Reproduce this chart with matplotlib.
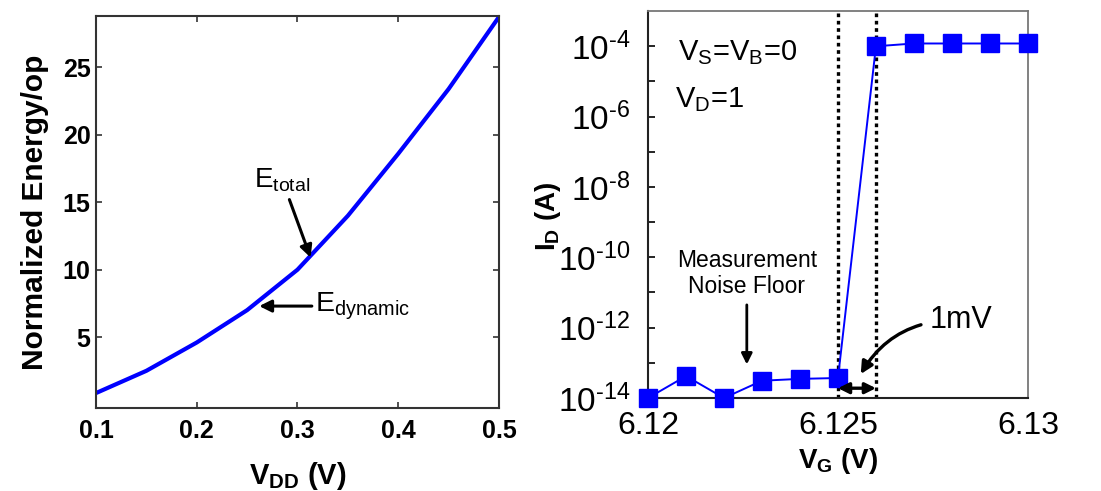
import numpy as np
import matplotlib.pyplot as plt
from matplotlib.ticker import FixedLocator, FuncFormatter

plt.rcParams.update(
    {
        "font.family": ["Liberation Sans", "DejaVu Sans"],
        "mathtext.fontset": "custom",
        "mathtext.rm": "Liberation Sans",
        "mathtext.it": "Liberation Sans",
        "mathtext.bf": "Liberation Sans:bold",
        "mathtext.default": "regular",
    }
)

# ---------------------------
# Data
# ---------------------------
vdd = [0.10, 0.15, 0.20, 0.25, 0.30, 0.35, 0.40, 0.45, 0.50]
energy = [0.85, 2.5, 4.6, 7.0, 10.0, 14.0, 18.6, 23.4, 28.75]
energy_ticks = [5, 10, 15, 20, 25]
vdd_ticks = [0.1, 0.2, 0.3, 0.4, 0.5]

vg = [6.120, 6.121, 6.122, 6.123, 6.124, 6.125, 6.126, 6.127, 6.128, 6.129, 6.130]
id_a = [1.0e-14, 4.2e-14, 1.0e-14, 3.1e-14, 3.5e-14, 3.7e-14,
        1.0e-4, 1.2e-4, 1.2e-4, 1.2e-4, 1.2e-4]
vg_ticks = [6.12, 6.125, 6.13]
vg_ticklabels = ["6.12", "6.125", "6.13"]
vg_window = [6.125, 6.126]

fig = plt.figure(figsize=(11.01, 4.91), dpi=100)

# ---------------------------
# Left: energy vs VDD
# ---------------------------
ax1 = fig.add_axes([0.0872, 0.169, 0.366, 0.798])
ax1.plot(vdd, energy, color="#0000ff", lw=3.0)
ax1.set_xlim(0.1, 0.5)
ax1.set_ylim(-0.26, 28.8)
ax1.xaxis.set_major_locator(FixedLocator(vdd_ticks))
ax1.yaxis.set_major_locator(FixedLocator(energy_ticks))
ax1.tick_params(direction="in", length=4, width=1.2, color="#333333",
                top=True, right=True, labelsize=18)
ax1.tick_params(axis="x", pad=8)
ax1.tick_params(axis="y", pad=4)
for lab in ax1.get_xticklabels() + ax1.get_yticklabels():
    lab.set_fontweight("bold")
for sp in ax1.spines.values():
    sp.set_color("#333333")
    sp.set_linewidth(1.5)
ax1.set_xlabel(r"V$_{\mathbf{DD}}$ (V)", fontsize=21, fontweight="bold", labelpad=12)
ax1.set_ylabel("Normalized Energy/op", fontsize=21.5, fontweight="bold", labelpad=10)

ax1.annotate(r"E$_{total}$", xy=(0.313, 10.9), xytext=(0.285, 15.6),
             fontsize=20, ha="center", va="bottom",
             arrowprops=dict(arrowstyle="-|>", color="black", lw=2.2,
                             mutation_scale=18, shrinkA=2, shrinkB=0))
ax1.annotate(r"E$_{dynamic}$", xy=(0.262, 7.3), xytext=(0.317, 7.3),
             fontsize=20.5, ha="left", va="center",
             arrowprops=dict(arrowstyle="-|>", color="black", lw=2.2,
                             mutation_scale=18, shrinkA=0, shrinkB=0))

# ---------------------------
# Right: ID vs VG
# ---------------------------
ax2 = fig.add_axes([0.5886, 0.1894, 0.345, 0.788])
ax2.set_yscale("log")
ax2.plot(vg, id_a, color="#0000ff", lw=1.4, marker="s", markersize=13,
         markerfacecolor="#0000ff", markeredgecolor="#0000ff", clip_on=False,
         zorder=3)
for v in vg_window:
    ax2.axvline(v, color="black", lw=2.4, ls=(0, (1.1, 1.1)), zorder=2)
ax2.set_xlim(6.12, 6.13)
ax2.set_ylim(1e-14, 1e-3)
ax2.xaxis.set_major_locator(FixedLocator(vg_ticks))
ax2.set_xticklabels(vg_ticklabels)
ax2.yaxis.set_major_locator(FixedLocator([10.0 ** k for k in range(-14, -3)]))
ax2.yaxis.set_minor_locator(FixedLocator([]))
ax2.yaxis.set_major_formatter(
    FuncFormatter(lambda v, p: r"10$^{\text{-}%d}$" % -round(np.log10(v))
                  if round(np.log10(v)) % 2 == 0 else ""))
ax2.tick_params(axis="y", direction="in", length=5, width=1.2,
                labelsize=24, pad=13)
ax2.tick_params(axis="x", length=0, labelsize=23, pad=9)
for side in ["left", "bottom"]:
    ax2.spines[side].set_color("#222222")
    ax2.spines[side].set_linewidth(1.5)
for side in ["top", "right"]:
    ax2.spines[side].set_color("#777777")
    ax2.spines[side].set_linewidth(1.3)
ax2.set_xlabel(r"V$_{\mathbf{G}}$ (V)", fontsize=20, fontweight="bold", labelpad=4)
ax2.set_ylabel(r"I$_{\mathbf{D}}$ (A)", fontsize=20, fontweight="bold")
ax2.yaxis.set_label_coords(-0.225, 0.47)

ax2.text(0.078, 0.893, r"V$_S$=V$_B$=0", transform=ax2.transAxes,
         fontsize=21, va="center", ha="left")
ax2.text(0.07, 0.77, r"V$_D$=1", transform=ax2.transAxes,
         fontsize=21, va="center", ha="left")
ax2.annotate("Measurement\nNoise Floor", xy=(6.1226, 9e-14), xytext=(6.1226, 7e-12),
             fontsize=16.5, ha="center", va="bottom", linespacing=1.15,
             arrowprops=dict(arrowstyle="-|>", color="black", lw=2.0,
                             mutation_scale=16, shrinkA=3, shrinkB=0))
ax2.annotate("", xy=(6.125, 1.9e-14), xytext=(6.126, 1.9e-14),
             arrowprops=dict(arrowstyle="<|-|>", color="black", lw=2.4,
                             mutation_scale=16, shrinkA=0, shrinkB=0))
ax2.annotate("1mV", xy=(6.1256, 4.8e-14), xytext=(6.1274, 1.6e-12),
             fontsize=22, ha="left", va="center",
             arrowprops=dict(arrowstyle="-|>", color="black", lw=2.4,
                             mutation_scale=18, shrinkA=4, shrinkB=0,
                             connectionstyle="arc3,rad=0.3"))

fig.savefig("out.png", dpi=100)
